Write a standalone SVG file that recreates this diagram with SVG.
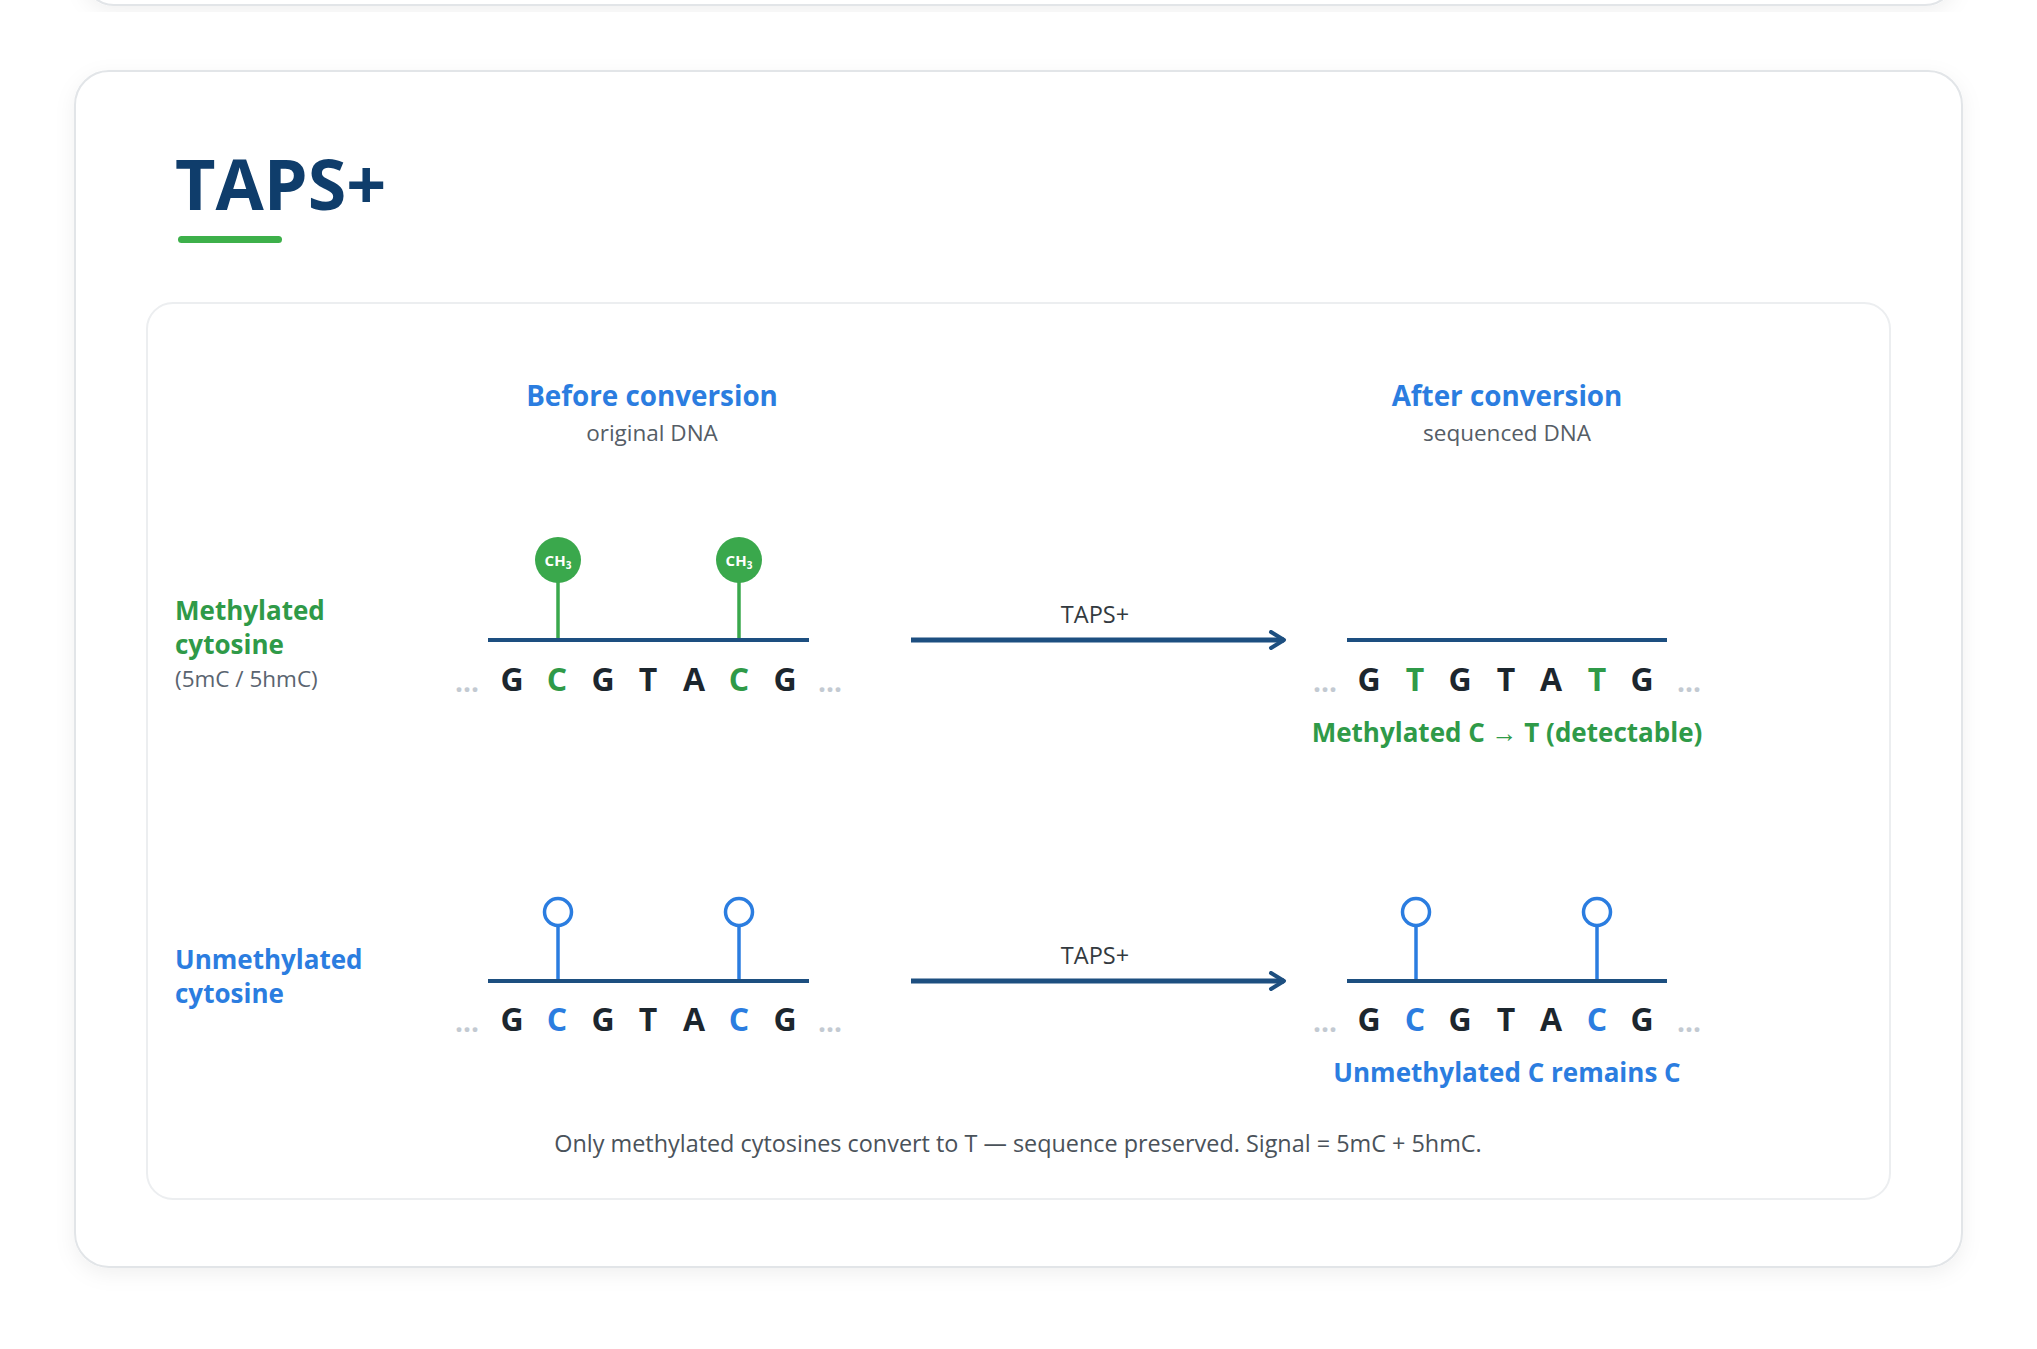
<svg xmlns="http://www.w3.org/2000/svg" width="2037" height="1349" viewBox="0 0 2037 1349">
<defs>
<filter id="sh" x="-5%" y="-5%" width="110%" height="115%">
<feDropShadow dx="0" dy="6" stdDeviation="10" flood-color="#000" flood-opacity="0.06"/>
</filter>
<marker id="ah" viewBox="0 0 20 20" refX="17" refY="10" markerWidth="20" markerHeight="20" markerUnits="userSpaceOnUse" orient="auto">
<path d="M4,2 L17,10 L4,18" fill="none" stroke="#1d4f80" stroke-width="4" stroke-linecap="round" stroke-linejoin="round"/>
</marker>
<style>
text{font-family:"Open Sans","Noto Sans","Liberation Sans",sans-serif}
.title{font-size:70px;font-weight:700;fill:#0f3d6b}
.hdr{font-size:27.8px;font-weight:700;fill:#2b7de0;text-anchor:middle}
.sub{font-size:22.5px;fill:#555d66;text-anchor:middle}
.lblg{font-size:26px;font-weight:700;fill:#2f9a48}
.lblb{font-size:26px;font-weight:700;fill:#2b7de0}
.lbls{font-size:22.5px;fill:#5a6470}
.nt{font-size:32px;font-weight:700;fill:#1c262e;text-anchor:middle}
.ntg{fill:#2f9a48}
.ntb{fill:#2b7de0}
.dots{font-size:28px;font-weight:700;fill:#c3cad2;text-anchor:middle}
.bb{stroke:#1d4f80;stroke-width:4;fill:none}
.arr{stroke:#1d4f80;stroke-width:5;fill:none}
.arl{font-size:23.5px;fill:#333a40;text-anchor:middle}
.gst{stroke:#3aa84c;stroke-width:3.5}
.bst{stroke:#2b7de0;stroke-width:3.5}
.oc{fill:#fff;stroke:#2b7de0;stroke-width:3.5}
.ch{font-size:15px;font-weight:700;fill:#fff;text-anchor:middle}
.resg{font-size:26px;font-weight:700;fill:#2f9a48;text-anchor:middle}
.resb{font-size:26px;font-weight:700;fill:#2b7de0;text-anchor:middle}
.foot{font-size:23.4px;fill:#4a525a;text-anchor:middle}
</style>
</defs>
<rect width="2037" height="1349" fill="#ffffff"/>
<g id="prev-card">
<rect x="84" y="-60" width="1871" height="65" rx="30" fill="#fff" stroke="#e2e5e8" stroke-width="2" filter="url(#sh)"/>
</g>
<g id="card">
<rect x="75" y="71" width="1887" height="1196" rx="34" fill="#fff" stroke="#e2e5e8" stroke-width="2" filter="url(#sh)"/>
<text class="title" x="175" y="210">TAPS+</text>
<rect x="178" y="236" width="104" height="7" rx="3.5" fill="#3db04a"/>
</g>
<g id="panel">
<rect x="147" y="303" width="1743" height="896" rx="26" fill="#fff" stroke="#eceef0" stroke-width="2"/>
</g>
<g id="headers">
<text class="hdr" x="652" y="406">Before conversion</text>
<text class="sub" x="652" y="441">original DNA</text>
<text class="hdr" x="1507" y="406">After conversion</text>
<text class="sub" x="1507" y="441">sequenced DNA</text>
</g>
<g id="row-methylated-label">
<text class="lblg" x="175" y="620">Methylated</text>
<text class="lblg" x="175" y="654">cytosine</text>
<text class="lbls" x="175" y="687">(5mC / 5hmC)</text>
</g>
<g id="row-unmethylated-label">
<text class="lblb" x="175" y="969">Unmethylated</text>
<text class="lblb" x="175" y="1003">cytosine</text>
</g>
<g id="dna-meth-before">
<line class="gst" x1="558" y1="580" x2="558" y2="640"/>
<line class="gst" x1="739" y1="580" x2="739" y2="640"/>
<circle cx="558" cy="560" r="23" fill="#3aa84c"/>
<circle cx="739" cy="560" r="23" fill="#3aa84c"/>
<text class="ch" x="558" y="566">CH<tspan font-size="10" dy="3">3</tspan></text>
<text class="ch" x="739" y="566">CH<tspan font-size="10" dy="3">3</tspan></text>
<line class="bb" x1="488" y1="640" x2="809" y2="640"/>
<text class="dots" x="467" y="692">...</text>
<text class="nt" x="512" y="691">G</text>
<text class="nt ntg" x="557" y="691">C</text>
<text class="nt" x="603" y="691">G</text>
<text class="nt" x="648" y="691">T</text>
<text class="nt" x="694" y="691">A</text>
<text class="nt ntg" x="739" y="691">C</text>
<text class="nt" x="785" y="691">G</text>
<text class="dots" x="830" y="692">...</text>
</g>
<g id="dna-meth-after">
<line class="bb" x1="1347" y1="640" x2="1667" y2="640"/>
<text class="dots" x="1325" y="692">...</text>
<text class="nt" x="1369" y="691">G</text>
<text class="nt ntg" x="1415" y="691">T</text>
<text class="nt" x="1460" y="691">G</text>
<text class="nt" x="1506" y="691">T</text>
<text class="nt" x="1551" y="691">A</text>
<text class="nt ntg" x="1597" y="691">T</text>
<text class="nt" x="1642" y="691">G</text>
<text class="dots" x="1689" y="692">...</text>
<text class="resg" x="1507" y="742">Methylated C → T (detectable)</text>
</g>
<g id="dna-unmeth-before">
<line class="bst" x1="558" y1="926" x2="558" y2="981"/>
<line class="bst" x1="739" y1="926" x2="739" y2="981"/>
<circle class="oc" cx="558" cy="912" r="13.5"/>
<circle class="oc" cx="739" cy="912" r="13.5"/>
<line class="bb" x1="488" y1="981" x2="809" y2="981"/>
<text class="dots" x="467" y="1032">...</text>
<text class="nt" x="512" y="1031">G</text>
<text class="nt ntb" x="557" y="1031">C</text>
<text class="nt" x="603" y="1031">G</text>
<text class="nt" x="648" y="1031">T</text>
<text class="nt" x="694" y="1031">A</text>
<text class="nt ntb" x="739" y="1031">C</text>
<text class="nt" x="785" y="1031">G</text>
<text class="dots" x="830" y="1032">...</text>
</g>
<g id="dna-unmeth-after">
<line class="bst" x1="1416" y1="926" x2="1416" y2="981"/>
<line class="bst" x1="1597" y1="926" x2="1597" y2="981"/>
<circle class="oc" cx="1416" cy="912" r="13.5"/>
<circle class="oc" cx="1597" cy="912" r="13.5"/>
<line class="bb" x1="1347" y1="981" x2="1667" y2="981"/>
<text class="dots" x="1325" y="1032">...</text>
<text class="nt" x="1369" y="1031">G</text>
<text class="nt ntb" x="1415" y="1031">C</text>
<text class="nt" x="1460" y="1031">G</text>
<text class="nt" x="1506" y="1031">T</text>
<text class="nt" x="1551" y="1031">A</text>
<text class="nt ntb" x="1597" y="1031">C</text>
<text class="nt" x="1642" y="1031">G</text>
<text class="dots" x="1689" y="1032">...</text>
<text class="resb" x="1507" y="1082">Unmethylated C remains C</text>
</g>
<g id="connectors">
<line class="arr" x1="911" y1="640" x2="1284" y2="640" marker-end="url(#ah)"/>
<text class="arl" x="1095" y="623">TAPS+</text>
<line class="arr" x1="911" y1="981" x2="1284" y2="981" marker-end="url(#ah)"/>
<text class="arl" x="1095" y="964">TAPS+</text>
</g>
<g id="footnote">
<text class="foot" x="1018" y="1152">Only methylated cytosines convert to T — sequence preserved. Signal = 5mC + 5hmC.</text>
</g>
</svg>
